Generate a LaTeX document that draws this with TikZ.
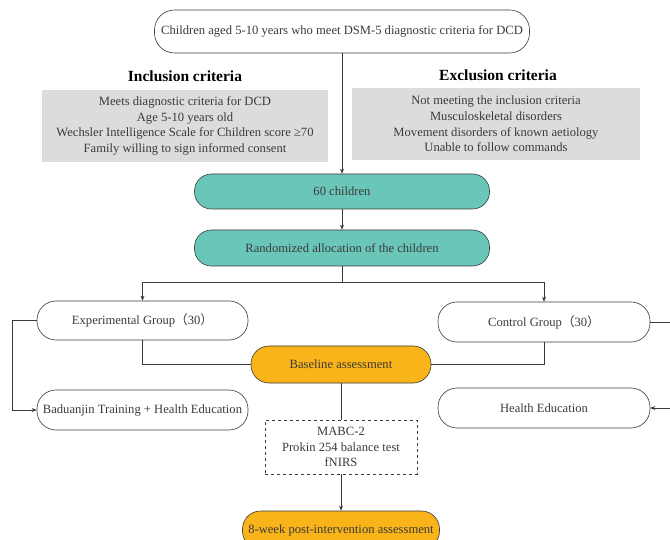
\documentclass[tikz,border=0pt]{standalone}
\usepackage{fontspec}
\setmainfont{Liberation Serif}
\newfontfamily\cjkf{Noto Sans CJK SC}
\usetikzlibrary{arrows.meta}
\definecolor{tealfill}{HTML}{6BC6BA}
\definecolor{orangefill}{HTML}{F8B418}
\definecolor{grayfill}{HTML}{DCDCDC}
\definecolor{linec}{HTML}{3A3A3A}
\newcommand{\fwl}{{\cjkf （}}
\newcommand{\fwr}{{\cjkf ）}}
\begin{document}
\begin{tikzpicture}[x=1pt,y=-1pt,
  txt/.style={font=\fontsize{12.6}{15.7}\selectfont, text=linec},
  rbox/.style={txt, draw=linec, line width=0.6pt, align=center, inner sep=0pt},
  graybox/.style={txt, fill=grayfill, align=center, inner sep=0pt},
  title/.style={font=\fontsize{15.5}{17}\selectfont\bfseries, text=black},
  arr/.style={draw=linec, line width=0.6pt, -{Stealth[length=5pt,width=4pt]}},
  ln/.style={draw=linec, line width=0.6pt}]
\useasboundingbox (0,0) rectangle (670,540);
\clip (0,0) rectangle (670,540);

\node[rbox, rounded corners=20pt, minimum width=375pt, minimum height=43pt] (top) at (342,31.5) {Children aged 5-10 years who meet DSM-5 diagnostic criteria for DCD};

\node[title] (incl) at (185,76) {Inclusion criteria};
\node[title] (excl) at (498,75) {Exclusion criteria};

\node[graybox, minimum width=286pt, minimum height=72pt] (inclbox) at (185,126) {Meets diagnostic criteria for DCD\\Age 5-10 years old\\Wechsler Intelligence Scale for Children score ≥70\\Family willing to sign informed consent};
\node[graybox, minimum width=288pt, minimum height=72pt] (exclbox) at (496,124) {Not meeting the inclusion criteria\\Musculoskeletal disorders\\Movement disorders of known aetiology\\Unable to follow commands};

\node[rbox, fill=tealfill, rounded corners=17pt, minimum width=295pt, minimum height=35pt] (n60) at (342,191.5) {60 children};
\node[rbox, fill=tealfill, rounded corners=17pt, minimum width=295pt, minimum height=36pt] (rand) at (342,248) {Randomized allocation of the children};

\node[rbox, rounded corners=19pt, minimum width=211pt, minimum height=39pt] (exp) at (142.5,320.5) {Experimental Group\fwl30\fwr};
\node[rbox, rounded corners=19pt, minimum width=212pt, minimum height=40pt] (ctrl) at (544,322) {Control Group\fwl30\fwr};

\node[rbox, fill=orangefill, rounded corners=18pt, minimum width=180pt, minimum height=37pt] (base) at (341,364.5) {Baseline assessment};

\node[rbox, rounded corners=19pt, minimum width=211pt, minimum height=40pt] (bad) at (142.5,410) {Baduanjin Training + Health Education};
\node[rbox, rounded corners=19pt, minimum width=212pt, minimum height=40pt] (he) at (544,408) {Health Education};

\node[rbox, dashed, minimum width=152pt, minimum height=54pt] (meas) at (341,447) {MABC-2\\Prokin 254 balance test\\fNIRS};

\node[rbox, fill=orangefill, rounded corners=18pt, minimum width=197pt, minimum height=38pt] (post) at (341,530) {8-week post-intervention assessment};

\draw[arr] (top) -- (n60);
\draw[arr] (n60) -- (rand);
\draw[ln] (rand.south) -- ++(0,16) coordinate (split);
\draw[arr] (split) -| (exp.north);
\draw[arr] (split) -| (ctrl.north);
\draw[ln] (exp.south) |- (base.west);
\draw[ln] (ctrl.south) |- (base.east);
\coordinate (lftx) at (12,0);
\coordinate (rgtx) at (680,0);
\draw[arr] (exp.west) -- (exp.west -| lftx) |- (bad.west);
\draw[arr] (ctrl.east) -- (ctrl.east -| rgtx) |- (he.east);
\draw[ln] (base) -- (meas);
\draw[arr] (meas) -- (post);
\end{tikzpicture}
\end{document}
